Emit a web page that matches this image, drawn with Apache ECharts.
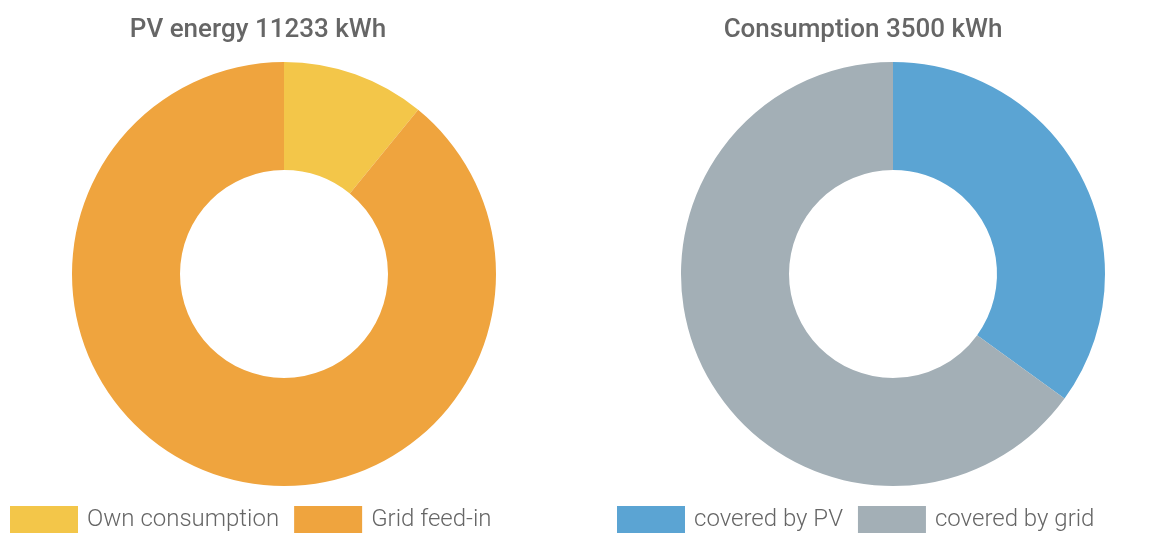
<!DOCTYPE html>
<html>
<head>
<meta charset="utf-8">
<script src="https://cdn.jsdelivr.net/npm/echarts@6/dist/echarts.min.js"></script>
<style>
  html, body { margin: 0; padding: 0; background: #fff; }
  #chart { width: 1150px; height: 538px; }
</style>
</head>
<body>
<div id="chart"></div>
<script>
// PV energy split
const pvNames = ["Own consumption", "Grid feed-in"]
const pvValues = [1225, 10008]
const pvColors = ["#f3c649", "#efa43e"]
const pvTotal = 11233

// consumption split
const consNames = ["covered by PV", "covered by grid"]
const consValues = [1225, 2275]
const consColors = ["#5ba4d3", "#a3afb6"]
const consTotal = 3500

const chart = echarts.init(document.getElementById("chart"))

const toData = (names, values, colors) =>
  names.map((n, i) => ({ name: n, value: values[i], itemStyle: { color: colors[i] } }))

const titleStyle = { fontFamily: "Roboto", fontSize: 26, fontWeight: 500, color: "#666" }
const legendText = { fontFamily: "Roboto", fontSize: 24, fontWeight: 300, color: "#666", padding: [2, 0, 0, 4] }

chart.setOption({
  animation: false,
  title: [
    { text: "PV energy " + pvTotal + " kWh", left: 253, top: 12, textAlign: "center", textStyle: titleStyle },
    { text: "Consumption " + consTotal + " kWh", left: 858, top: 12, textAlign: "center", textStyle: titleStyle }
  ],
  legend: [
    {
      data: pvNames, left: 5, top: 501, itemWidth: 68, itemHeight: 27, itemGap: 15,
      icon: "rect", textStyle: legendText, selectedMode: false
    },
    {
      data: consNames, left: 612, top: 501, itemWidth: 68, itemHeight: 27, itemGap: 15,
      icon: "rect", textStyle: legendText, selectedMode: false
    }
  ],
  series: [
    {
      type: "pie", center: [284, 274], radius: [104, 212], startAngle: 90,
      label: { show: false }, labelLine: { show: false }, silent: true,
      data: toData(pvNames, pvValues, pvColors)
    },
    {
      type: "pie", center: [893, 274], radius: [104, 212], startAngle: 90,
      label: { show: false }, labelLine: { show: false }, silent: true,
      data: toData(consNames, consValues, consColors)
    }
  ]
})
</script>
</body>
</html>
